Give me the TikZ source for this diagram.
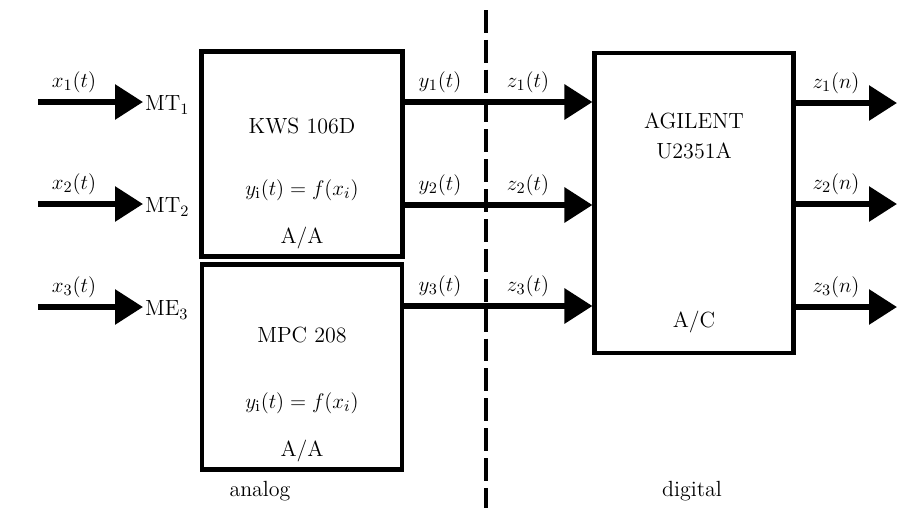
\documentclass[tikz,border=0pt]{standalone}
\usepackage{amsmath}
\usetikzlibrary{arrows.meta, positioning}

\tikzset{
    blk/.style={draw, line width=2.3pt, inner sep=0pt},
    sig/.style={line width=3.4pt, -{Triangle[length=0.56cm, width=0.68cm]}},
    lbl/.style={font=\fontsize{12.5}{15}\selectfont, inner sep=1pt}
}

\begin{document}
\begin{tikzpicture}[x=0.02cm, y=-0.02cm, every node/.style={font=\fontsize{12.5}{15}\selectfont}]
    \useasboundingbox (0,0) rectangle (897,508);

    % Blocks
    \node[blk, minimum width=201*0.02cm, minimum height=205*0.02cm] (kws) at (302,154) {};
    \node[blk, minimum width=200*0.02cm, minimum height=205*0.02cm] (mpc) at (302,367) {};
    \node[blk, minimum width=199*0.02cm, minimum height=300*0.02cm] (agl) at (694,203) {};

    % Block texts
    \node (kwsname) at (302,126) {KWS 106D};
    \node (kwsfun) at (302,190) {$y_{\mathrm{i}}(t) = f(x_i)$};
    \node (kwstype) at (302,238) {A/A};
    \node (mpcname) at (302,335) {MPC 208};
    \node (mpcfun) at (302,403) {$y_{\mathrm{i}}(t) = f(x_i)$};
    \node (mpctype) at (302,451) {A/A};
    \node (aglname) at (694,121) {AGILENT};
    \node (agltype) at (694,151) {U2351A};
    \node (aglconv) at (694,322) {A/C};

    % Domain border
    \coordinate (bordtop) at (486,10);
    \coordinate (bordbot) at (486,508);
    \draw[line width=2.3pt, dash pattern=on 13pt off 4pt] (bordtop) -- (bordbot);
    \node (analog) at (260,491) {analog};
    \node (digital) at (692,491) {digital};

    % Inputs
    \foreach \i/\s/\yy in {1/MT/102, 2/MT/204, 3/ME/307} {
        \coordinate (in\i) at (38,\yy);
        \node[anchor=west, inner sep=1pt] (sen\i) at (143,\yy+3) {\s$_{\i}$};
        \draw[sig] (in\i) -- (in\i -| sen\i.west);
        \node[lbl] (x\i) at (74,\yy-20) {$x_{\i}(t)$};
    }

    % Analog to digital
    \foreach \i/\yy in {1/102, 2/205, 3/306} {
        \coordinate (ya\i) at (402,\yy);
        \draw[sig] (ya\i) -- (ya\i -| agl.west);
        \node[lbl] (y\i) at (440,\yy-20) {$y_{\i}(t)$};
        \node[lbl] (z\i) at (528,\yy-20) {$z_{\i}(t)$};
    }

    % Outputs
    \foreach \i/\yy in {1/103, 2/204, 3/307} {
        \coordinate (out\i) at (897,\yy);
        \draw[sig] (agl.east |- out\i) -- (out\i);
        \node[lbl] (zn\i) at (836,\yy-20) {$z_{\i}(n)$};
    }
\end{tikzpicture}
\end{document}
